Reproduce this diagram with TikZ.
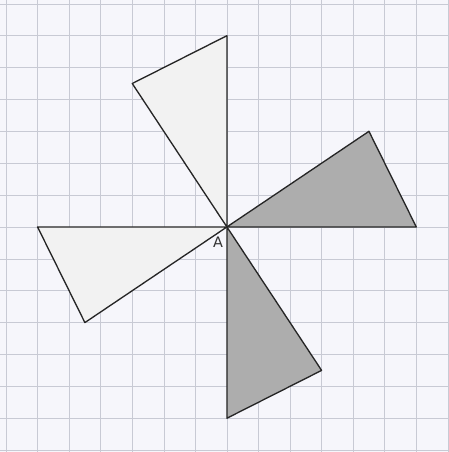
\documentclass[tikz,border=0pt]{standalone}
\usepackage{fontspec}
\setsansfont{DejaVu Sans}
\begin{document}
\begin{tikzpicture}[
  x=1cm, y=1.01cm,
  gridline/.style={draw=gridc, line width=0.5pt},
  tri/.style={draw=black!85, line width=1.2pt, line join=round},
  darktri/.style={tri, fill=black!32},
  lighttri/.style={tri, fill=black!5},
  lbl/.style={font=\sffamily\fontsize{13}{13}\selectfont, text=black!80, inner sep=0pt}
]
\definecolor{gridc}{RGB}{200,202,212}
\definecolor{bgc}{RGB}{246,246,251}
\useasboundingbox[fill=bgc] (-7.19,-7.06) rectangle (7.02,7.12);
\foreach \x in {-7,...,7} \draw[gridline] (\x,-7.06) -- (\x,7.12);
\foreach \y in {-7,...,7} \draw[gridline] (-7.19,\y) -- (7.02,\y);
\coordinate (A) at (0,0);
\coordinate (T1) at (0,6);
\coordinate (T2) at (-3,4.5);
\coordinate (R1) at (6,0);
\coordinate (R2) at (4.5,3);
\coordinate (B1) at (0,-6);
\coordinate (B2) at (3,-4.5);
\coordinate (L1) at (-6,0);
\coordinate (L2) at (-4.5,-3);
\draw[lighttri] (A) -- (T1) -- (T2) -- cycle;
\draw[lighttri] (A) -- (L1) -- (L2) -- cycle;
\draw[darktri] (A) -- (R1) -- (R2) -- cycle;
\draw[darktri] (A) -- (B1) -- (B2) -- cycle;
\node[lbl] (labA) at (-0.28,-0.47) {A};
\end{tikzpicture}
\end{document}
